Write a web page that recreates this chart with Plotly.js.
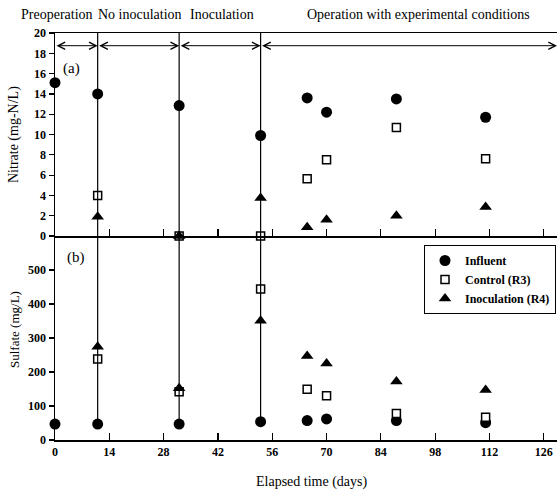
<!DOCTYPE html>
<html>
<head>
<meta charset="utf-8">
<script src="https://cdn.plot.ly/plotly-3.0.1.min.js"></script>
<style>html,body{margin:0;padding:0;background:#fff;}</style>
</head>
<body>
<div id="chart" style="width:557px;height:493px;"></div>
<script>
// ---- data ----
const days = [0, 11, 32, 53, 65, 70, 88, 111];
const nitrateInfluent = [15.1, 14.0, 12.85, 9.9, 13.6, 12.2, 13.5, 11.7];
const nitrateControl = [null, 4.0, 0, 0, 5.65, 7.5, 10.7, 7.6];
const nitrateInoculation = [null, 1.9, 0, 3.75, 0.85, 1.6, 2.0, 2.85];
const sulfateInfluent = [47, 47, 47, 54, 57, 62, 57, 51];
const sulfateControl = [null, 238, 142, 444, 149, 130, 78, 67];
const sulfateInoculation = [null, 274, 152, 351, 247, 225, 172, 147];
const seriesNames = ["Influent", "Control (R3)", "Inoculation (R4)"];
const phaseBounds = [0, 11, 32, 53, 129.4];
const phaseBoundaryDays = [11, 32, 53];
const phaseLabels = ["Preoperation", "No inoculation", "Inoculation", "Operation with experimental conditions"];
const xTicks = [0, 14, 28, 42, 56, 70, 84, 98, 112, 126];
const nitrateTicks = [0, 2, 4, 6, 8, 10, 12, 14, 16, 18, 20];
const sulfateTicks = [0, 100, 200, 300, 400, 500];
const arrowLevel = 18.75;

const FONT = "Liberation Serif, Times New Roman, serif";
const W = 557, H = 493, ML = 55, MR = 0, MT = 33, MB = 53;
const PW = W - ML - MR, PH = H - MT - MB;
const px = v => (v - ML) / PW;
const py = v => (H - MB - v) / PH;
const split = py(236);

const markers = [
  {symbol: "circle", size: 11, color: "#000", line: {width: 0}},
  {symbol: "square", size: 8, color: "#fff", line: {color: "#000", width: 1.5}},
  {symbol: "triangle-up", size: 11, color: "#000", line: {width: 0}}
];

function tr(y, i, xa, ya, show) {
  return {x: days, y: y, type: "scatter", mode: "markers", name: seriesNames[i],
    xaxis: xa, yaxis: ya, marker: markers[i], showlegend: show, cliponaxis: false,
    legendrank: i};
}

const data = [
  tr(sulfateInfluent, 0, "x", "y", true),
  tr(sulfateControl, 1, "x", "y", true),
  tr(sulfateInoculation, 2, "x", "y", true),
  tr(nitrateInfluent, 0, "x2", "y2", false),
  tr(nitrateControl, 1, "x2", "y2", false),
  tr(nitrateInoculation, 2, "x2", "y2", false)
];

const shapes = [];
phaseBoundaryDays.forEach(d => {
  shapes.push({type: "line", xref: "x2", yref: "y2 domain", x0: d, x1: d, y0: 0, y1: 1,
    line: {color: "#000", width: 1.2}});
  const idx = days.indexOf(d);
  shapes.push({type: "line", xref: "x", yref: "y", x0: d, x1: d, y0: sulfateInfluent[idx], y1: 600,
    line: {color: "#000", width: 1.2}});
});

const annotations = [];
for (let i = 0; i < phaseBounds.length - 1; i++) {
  annotations.push({xref: "x2", yref: "y2", axref: "x2", ayref: "y2",
    x: phaseBounds[i + 1], y: arrowLevel, ax: phaseBounds[i], ay: arrowLevel,
    text: "", showarrow: true, arrowside: "end+start",
    arrowhead: 5, startarrowhead: 5, arrowsize: 1.4, startarrowsize: 1.4, arrowwidth: 1, arrowcolor: "#000",
    standoff: 0, startstandoff: 0});
}
const labelX = [56.5, 140, 222, 418];
phaseLabels.forEach((t, i) => {
  annotations.push({xref: "paper", yref: "paper", x: px(labelX[i]), y: py(15), xanchor: "center", yanchor: "middle",
    text: t, showarrow: false, font: {family: FONT, size: 14, color: "#000"}});
});
annotations.push({xref: "paper", yref: "paper", x: px(71), y: py(68), text: "(a)", showarrow: false,
  xanchor: "center", yanchor: "middle", font: {family: FONT, size: 15, color: "#000"}});
annotations.push({xref: "paper", yref: "paper", x: px(76), y: py(257), text: "(b)", showarrow: false,
  xanchor: "center", yanchor: "middle", font: {family: FONT, size: 15, color: "#000"}});
annotations.push({xref: "paper", yref: "paper", x: px(14), y: py(135), text: "Nitrate (mg-N/L)", textangle: -90,
  showarrow: false, xanchor: "center", yanchor: "middle", font: {family: FONT, size: 14, color: "#000"}});
annotations.push({xref: "paper", yref: "paper", x: px(14), y: py(330), text: "Sulfate (mg/L)", textangle: -90,
  showarrow: false, xanchor: "center", yanchor: "middle", font: {family: FONT, size: 13, color: "#000"}});
annotations.push({xref: "paper", yref: "paper", x: px(312), y: py(482), text: "Elapsed time (days)",
  showarrow: false, xanchor: "center", yanchor: "middle", font: {family: FONT, size: 14, color: "#000"}});

const tickFont = {family: FONT, size: 12, color: "#000", weight: "bold"};
const layout = {
  width: W, height: H,
  margin: {l: ML, r: MR, t: MT, b: MB},
  paper_bgcolor: "#fff", plot_bgcolor: "#fff",
  showlegend: true,
  legend: {x: px(424), y: py(245), xanchor: "left", yanchor: "top",
    bordercolor: "#000", borderwidth: 1, bgcolor: "#fff",
    font: {family: FONT, size: 12, color: "#000", weight: "bold"}, tracegroupgap: 0},
  xaxis: {domain: [0, 1], range: [phaseBounds[0], phaseBounds[4]], anchor: "y",
    tickvals: xTicks, ticks: "inside", ticklen: 7, tickwidth: 1.2, tickcolor: "#000",
    showline: true, linecolor: "#000", linewidth: 1.5, showgrid: false, zeroline: false,
    tickfont: tickFont},
  xaxis2: {domain: [0, 1], range: [phaseBounds[0], phaseBounds[4]], anchor: "y2", matches: "x",
    tickvals: xTicks, ticks: "inside", ticklen: 7, tickwidth: 1.2, tickcolor: "#000",
    showticklabels: false, showline: true, mirror: true, linecolor: "#000", linewidth: 1.5,
    showgrid: false, zeroline: false},
  yaxis: {domain: [0, split], range: [0, 600], anchor: "x", tickvals: sulfateTicks,
    ticks: "outside", ticklen: 5, tickwidth: 1.2, tickcolor: "#000",
    showline: true, linecolor: "#000", linewidth: 1.5, showgrid: false, zeroline: false,
    tickfont: tickFont},
  yaxis2: {domain: [split, 1], range: [0, 20], anchor: "x2", tickvals: nitrateTicks,
    ticks: "outside", ticklen: 5, tickwidth: 1.2, tickcolor: "#000",
    showline: true, linecolor: "#000", linewidth: 1.5, showgrid: false, zeroline: false,
    tickfont: tickFont},
  shapes: shapes,
  annotations: annotations
};

Plotly.newPlot("chart", data, layout, {displayModeBar: false, staticPlot: true});
</script>
</body>
</html>
